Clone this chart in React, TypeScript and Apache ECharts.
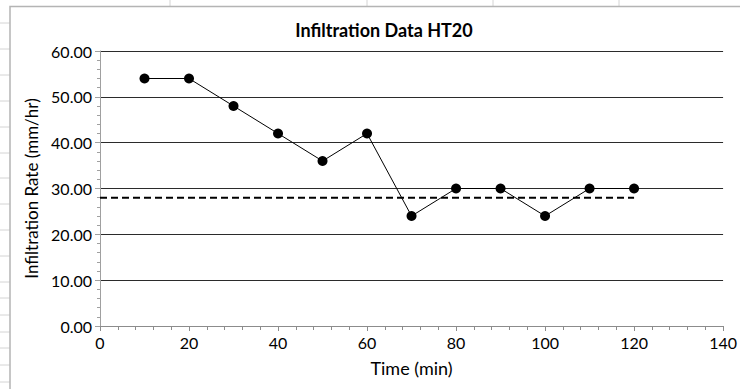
import React, { useEffect, useRef } from "react";
import * as echarts from "echarts";

const timeMin = [10, 20, 30, 40, 50, 60, 70, 80, 90, 100, 110, 120];
const rateMmHr = [54, 54, 48, 42, 36, 42, 24, 30, 30, 24, 30, 30];
const steadyX = [0, 120];
const steadyY = [28, 28];
const xRange = [0, 140];
const yRange = [0, 60];
const titleText = "Infiltration Data HT20";
const xTitle = "Time (min)";
const yTitle = "Infiltration Rate (mm/hr)";

// spreadsheet background decoration (outside the chart box)
const sheetRowLines = [23, 49, 75, 101, 127, 153, 178, 204, 230, 256, 282, 298, 315, 332, 348, 365, 382];
const sheetColLines = [170, 367, 493, 619];

export default function App() {
  const ref = useRef<HTMLDivElement>(null);
  useEffect(() => {
    if (!ref.current) return;
    const chart = echarts.init(ref.current, null, { renderer: "svg" });
    const font = "Lato, 'Open Sans', sans-serif";
    const graphics: any[] = [];
    sheetRowLines.forEach((y) =>
      graphics.push({
        type: "line",
        silent: true,
        shape: { x1: 0, y1: y, x2: 10, y2: y },
        style: { stroke: "#d4d4d4", lineWidth: 1 },
        z: -10,
      })
    );
    sheetColLines.forEach((x) =>
      graphics.push({
        type: "line",
        silent: true,
        shape: { x1: x, y1: 0, x2: x, y2: 6 },
        style: { stroke: "#d4d4d4", lineWidth: 1 },
        z: -10,
      })
    );
    graphics.push({
      type: "rect",
      silent: true,
      shape: { x: 10, y: 6.5, width: 800, height: 500 },
      style: { fill: "#ffffff", stroke: "#b4b4b4", lineWidth: 1.5 },
      z: -9,
    });
    chart.setOption({
      animation: false,
      backgroundColor: "#ffffff",
      graphic: graphics,
      title: {
        text: titleText,
        left: 379,
        top: 16,
        textAlign: "center",
        textStyle: { fontFamily: font, fontSize: 18, fontWeight: "bold", color: "#000" },
      },
      grid: { left: 100, right: 7, top: 51, bottom: 63, containLabel: false },
      xAxis: {
        type: "value",
        min: xRange[0],
        max: xRange[1],
        interval: 20,
        name: xTitle,
        nameLocation: "middle",
        nameGap: 33,
        nameTextStyle: { fontFamily: font, fontSize: 18, color: "#000" },
        axisLine: { show: true, lineStyle: { color: "#8c8c8c", width: 1 } },
        axisTick: { show: true, length: 5, inside: false, lineStyle: { color: "#8c8c8c" } },
        minorTick: { show: true, splitNumber: 5, length: 4, lineStyle: { color: "#8c8c8c" } },
        splitLine: { show: false },
        axisLabel: { fontFamily: font, fontSize: 16, color: "#000", margin: 8 },
      },
      yAxis: {
        type: "value",
        min: yRange[0],
        max: yRange[1],
        interval: 10,
        name: yTitle,
        nameLocation: "middle",
        nameGap: 60,
        nameTextStyle: { fontFamily: font, fontSize: 17, color: "#000" },
        axisLine: { show: true, lineStyle: { color: "#a0a0a0", width: 1 } },
        axisTick: { show: true, length: 5, lineStyle: { color: "#a0a0a0" } },
        minorTick: { show: true, splitNumber: 5, length: 3, lineStyle: { color: "#a0a0a0" } },
        splitLine: { show: true, lineStyle: { color: "#2b2b2b", width: 1 } },
        axisLabel: {
          fontFamily: font,
          fontSize: 16,
          color: "#000",
          margin: 8,
          formatter: (v: number) => v.toFixed(2),
        },
      },
      series: [
        {
          type: "line",
          data: steadyX.map((x, i) => [x, steadyY[i]]),
          showSymbol: false,
          symbol: "none",
          lineStyle: { color: "#000", width: 2, type: [7, 4] },
          z: 2,
        },
        {
          type: "line",
          data: timeMin.map((x, i) => [x, rateMmHr[i]]),
          symbol: "circle",
          symbolSize: 10,
          itemStyle: { color: "#000" },
          lineStyle: { color: "#000", width: 1 },
          z: 3,
        },
      ],
    });
    return () => chart.dispose();
  }, []);
  return (
    <div
      ref={ref}
      style={{ position: "fixed", left: 0, top: 0, width: 740, height: 389 }}
    />
  );
}
